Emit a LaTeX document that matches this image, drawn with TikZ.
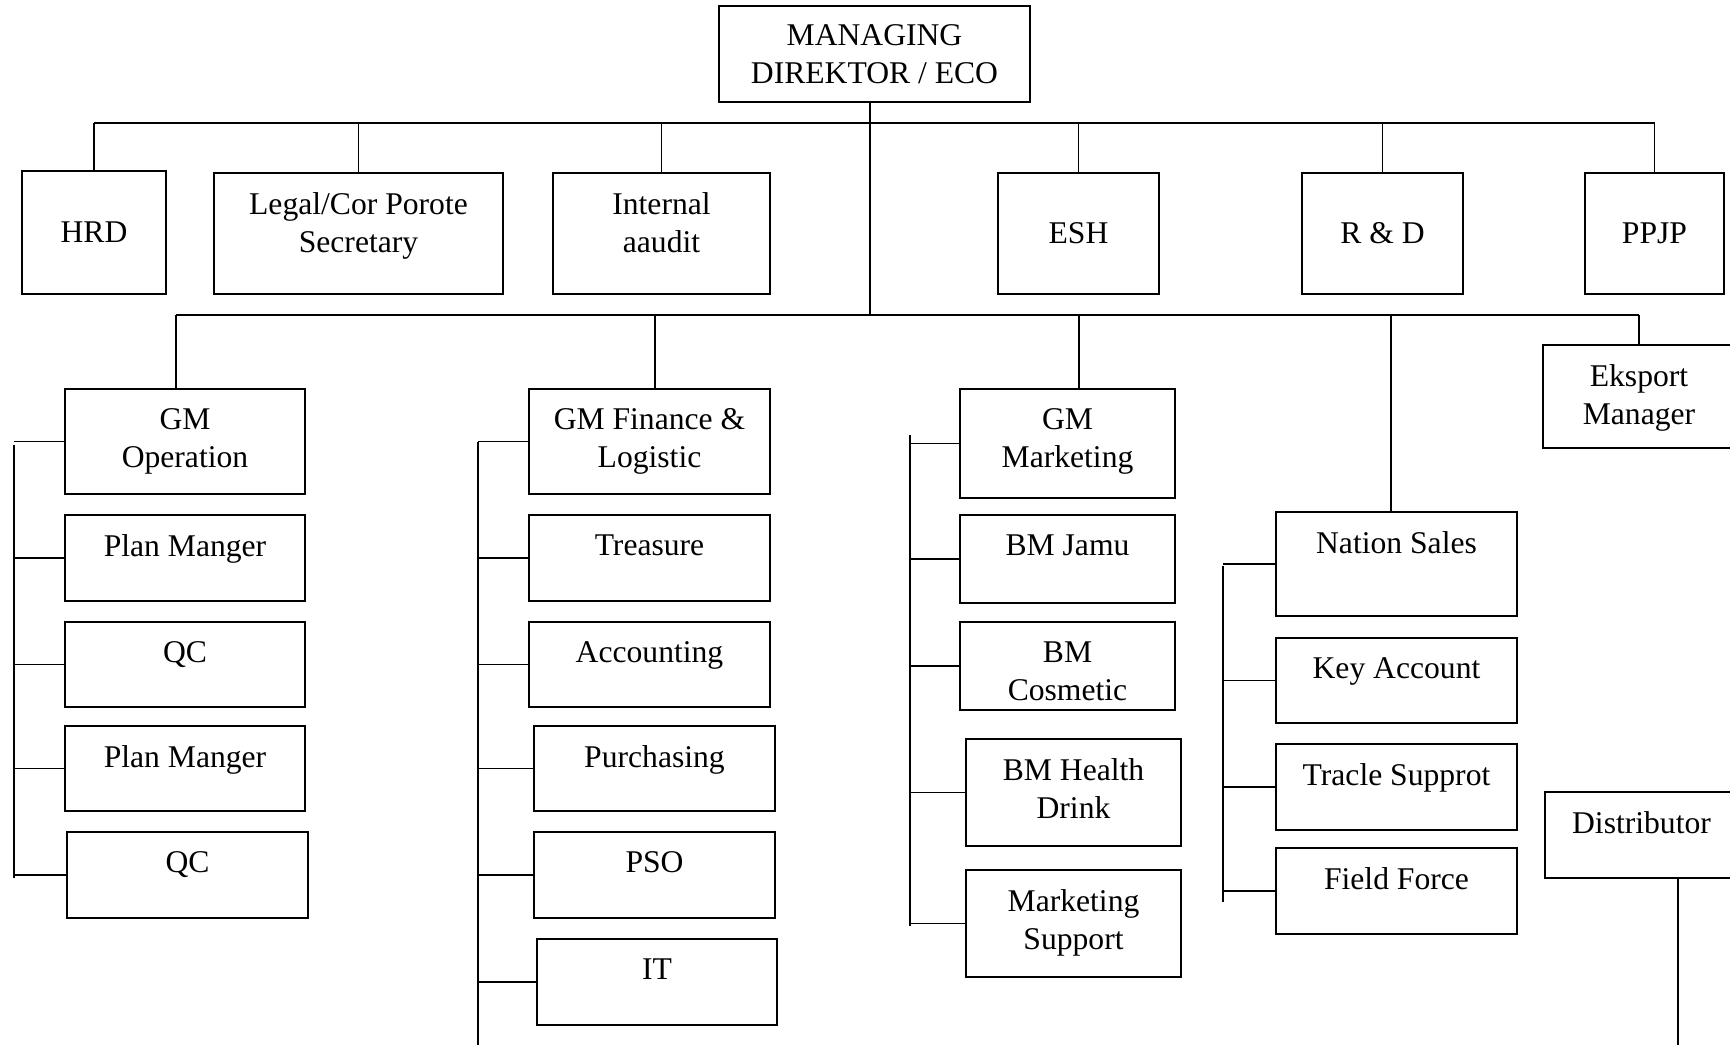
\documentclass[tikz,border=0pt]{standalone}
\usepackage{fontspec}
\setmainfont{Liberation Serif}
\usetikzlibrary{fit}
\begin{document}
\begin{tikzpicture}[x=0.02cm, y=-0.02cm, line width=1pt,
  font=\fontsize{18}{21.5}\selectfont,
  box/.style={draw, inner sep=0pt, align=center},
  head/.style={anchor=north, inner sep=0pt, yshift=-11.2pt, align=center},
  mid/.style={inner sep=0pt, align=center}]
\useasboundingbox (0,0) rectangle (1730,1045);
\clip (0,0) rectangle (1730,1045);

\node[box, fit={(719,6) (1030,102)}, label={[mid]center:MANAGING\\DIREKTOR / ECO}] (md) {};
\coordinate (bar1) at (870,123);
\coordinate (bar2) at (870,315);

% staff row
\node[box, fit={(22,171) (166,294)}, label={[mid]center:HRD}] (hrd) {};
\node[box, fit={(214,173) (503,294)}, label={[head]north:Legal/Cor Porote\\Secretary}] (legal) {};
\node[box, fit={(553,173) (770,294)}, label={[head]north:Internal\\aaudit}] (audit) {};
\node[box, fit={(998,173) (1159,294)}, label={[mid]center:ESH}] (esh) {};
\node[box, fit={(1302,173) (1463,294)}, label={[mid]center:R \& D}] (rnd) {};
\node[box, fit={(1585,173) (1724,294)}, label={[mid]center:PPJP}] (ppjp) {};

\draw (md.south -| bar1) -- (bar2);
\draw (hrd.north |- bar1) -- (ppjp.north |- bar1);
\foreach \n in {hrd,legal,audit,esh,rnd,ppjp}
{
    \draw (\n.north |- bar1) -- (\n.north);
}

% operation
\node[box, fit={(65,389) (305,494)}, label={[head]north:GM\\Operation}] (op) {};
\node[box, fit={(65,515) (305,601)}, label={[head]north:Plan Manger}] (pm1) {};
\node[box, fit={(65,622) (305,707)}, label={[head]north:QC}] (qc1) {};
\node[box, fit={(65,726) (305,811)}, label={[head]north:Plan Manger}] (pm2) {};
\node[box, fit={(67,832) (308,918)}, label={[head]north:QC}] (qc2) {};

% finance
\node[box, fit={(529,389) (770,494)}, label={[head]north:GM Finance \&\\Logistic}] (fin) {};
\node[box, fit={(529,515) (770,601)}, label={[head]north:Treasure}] (tre) {};
\node[box, fit={(529,622) (770,707)}, label={[head]north:Accounting}] (acc) {};
\node[box, fit={(534,726) (775,811)}, label={[head]north:Purchasing}] (pur) {};
\node[box, fit={(534,832) (775,918)}, label={[head]north:PSO}] (pso) {};
\node[box, fit={(537,939) (777,1025)}, label={[head]north:IT}] (it) {};

% marketing
\node[box, fit={(960,389) (1175,498)}, label={[head]north:GM\\Marketing}] (mkt) {};
\node[box, fit={(960,515) (1175,603)}, label={[head]north:BM Jamu}] (jamu) {};
\node[box, fit={(960,622) (1175,710)}, label={[head]north:BM\\Cosmetic}] (cos) {};
\node[box, fit={(966,739) (1181,846)}, label={[head]north:BM Health\\Drink}] (hd) {};
\node[box, fit={(966,870) (1181,977)}, label={[head]north:Marketing\\Support}] (ms) {};

% sales
\node[box, fit={(1276,512) (1517,616)}, label={[head]north:Nation Sales}] (ns) {};
\node[box, fit={(1276,638) (1517,723)}, label={[head]north:Key Account}] (ka) {};
\node[box, fit={(1276,744) (1517,830)}, label={[head]north:Tracle Supprot}] (ts) {};
\node[box, fit={(1276,848) (1517,934)}, label={[head]north:Field Force}] (ff) {};

\node[box, fit={(1543,345) (1735,448)}, label={[head]north:Eksport\\Manager}] (eks) {};
\node[box, fit={(1545,792) (1738,878)}, label={[head]north:Distributor}] (dist) {};

% second level
\draw (176,0 |- bar2) -- (1639,0 |- bar2);
\draw (176,0 |- bar2) -- (176,0 |- op.north);
\draw (655,0 |- bar2) -- (655,0 |- fin.north);
\draw (1079,0 |- bar2) -- (1079,0 |- mkt.north);
\draw (1391,0 |- bar2) -- (1391,0 |- ns.north);
\draw (1639,0 |- bar2) -- (1639,0 |- eks.north);
\draw (1678,0 |- dist.south) -- (1678,1045);

% brackets
\draw (14,445) -- (14,878);
\foreach \n in {op,pm1,qc1,pm2,qc2}
{
    \draw (14,0 |- \n.west) -- (\n.west);
}
\draw (478,442) -- (478,1045);
\foreach \n in {fin,tre,acc,pur,pso,it}
{
    \draw (478,0 |- \n.west) -- (\n.west);
}
\draw (910,435) -- (910,926);
\foreach \n in {mkt,jamu,cos,hd,ms}
{
    \draw (910,0 |- \n.west) -- (\n.west);
}
\draw (1223,566) -- (1223,902);
\foreach \n in {ns,ka,ts,ff}
{
    \draw (1223,0 |- \n.west) -- (\n.west);
}
\end{tikzpicture}
\end{document}
